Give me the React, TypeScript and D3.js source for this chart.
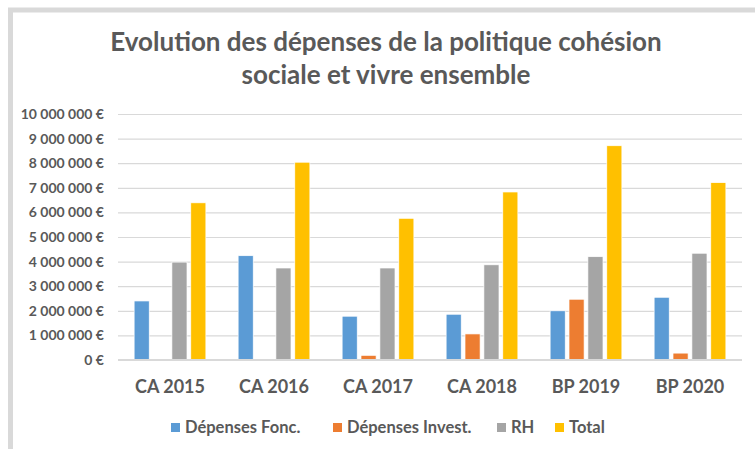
import * as d3 from "d3";
import { useEffect, useRef } from "react";

const categories = ["CA 2015", "CA 2016", "CA 2017", "CA 2018", "BP 2019", "BP 2020"];
const seriesNames = ["Dépenses Fonc.", "Dépenses Invest.", "RH", "Total"];
const depFonc = [2400000, 4240000, 1780000, 1860000, 2000000, 2550000];
const depInvest = [0, 0, 190000, 1060000, 2470000, 280000];
const rh = [3980000, 3740000, 3740000, 3870000, 4200000, 4340000];
const total = [6390000, 8040000, 5760000, 6830000, 8710000, 7210000];
const yTicks = [0, 1000000, 2000000, 3000000, 4000000, 5000000, 6000000, 7000000, 8000000, 9000000, 10000000];
const titleLines = ["Evolution des dépenses de la politique cohésion", "sociale et vivre ensemble"];

const colors = ["#5b9bd5", "#ed7d31", "#a5a5a5", "#ffc000"];
const textColor = "#595959";
const font = "Lato, 'Open Sans', sans-serif";

const App = () => {
    const ref = useRef<SVGSVGElement>(null);
    const width = 755;
    const height = 449;
    const margin = { top: 114, bottom: 89, left: 118, right: 13 };

    useEffect(() => {
        const svg = d3.select(ref.current);
        svg.selectAll("*").remove();

        const allSeries = [depFonc, depInvest, rh, total];

        const x0 = d3.scaleBand()
            .domain(categories)
            .range([margin.left, width - margin.right])
            .paddingInner(0.31)
            .paddingOuter(0.155);
        const x1 = d3.scaleBand()
            .domain(seriesNames)
            .range([0, x0.bandwidth()])
            .paddingInner(0.2);
        const y = d3.scaleLinear()
            .domain([0, 10000000])
            .range([height - margin.bottom, margin.top]);

        // frame
        svg.append("rect")
            .attr("x", 10.5).attr("y", 10)
            .attr("width", width + 20).attr("height", height + 20)
            .attr("fill", "none")
            .attr("stroke", "#d9d9d9")
            .attr("stroke-width", 5);

        // title
        svg.append("g").selectAll("text")
            .data(titleLines)
            .enter()
            .append("text")
            .attr("x", 386)
            .attr("y", (d, i) => 51 + i * 33)
            .attr("text-anchor", "middle")
            .style("font-family", font)
            .style("font-weight", "bold")
            .style("font-size", "26px")
            .style("fill", textColor)
            .text(d => d);

        // y axis + gridlines
        const fmt = d3.format(",.0f");
        const yAxis = d3.axisLeft(y)
            .tickValues(yTicks)
            .tickSize(-(width - margin.right - margin.left))
            .tickPadding(14)
            .tickFormat(d => fmt(d as number).replace(/,/g, " ") + " €");
        const gy = svg.append("g")
            .attr("transform", `translate(${margin.left}, 0)`)
            .call(yAxis);
        gy.select(".domain").remove();
        gy.selectAll("line")
            .attr("stroke", "#d9d9d9")
            .attr("stroke-width", 1.2);
        gy.selectAll("text")
            .style("font-family", font)
            .style("font-weight", "bold")
            .style("font-size", "14px")
            .style("fill", textColor);

        // bars
        allSeries.forEach((vals, si) => {
            svg.append("g").selectAll("rect")
                .data(vals)
                .enter()
                .append("rect")
                .attr("x", (d, i) => x0(categories[i])! + x1(seriesNames[si])!)
                .attr("y", d => y(d))
                .attr("width", x1.bandwidth())
                .attr("height", d => y(0) - y(d))
                .attr("fill", colors[si])
                .attr("stroke", "#fff")
                .attr("stroke-width", 0.7);
        });

        // baseline
        svg.append("line")
            .attr("x1", margin.left).attr("x2", width - margin.right)
            .attr("y1", y(0)).attr("y2", y(0))
            .attr("stroke", "#d9d9d9")
            .attr("stroke-width", 2);

        // category labels
        svg.append("g").selectAll("text")
            .data(categories)
            .enter()
            .append("text")
            .attr("x", d => x0(d)! + x0.bandwidth() / 2)
            .attr("y", 393)
            .attr("text-anchor", "middle")
            .style("font-family", font)
            .style("font-weight", "bold")
            .style("font-size", "18px")
            .style("fill", textColor)
            .text(d => d);

        // legend
        const legendX = [171, 333, 497, 555];
        const lg = svg.append("g").selectAll("g")
            .data(seriesNames)
            .enter()
            .append("g")
            .attr("transform", (d, i) => `translate(${legendX[i]}, 422)`);
        lg.append("rect")
            .attr("width", 9).attr("height", 9)
            .attr("y", 1)
            .attr("fill", (d, i) => colors[i]);
        lg.append("text")
            .attr("x", 14)
            .attr("y", 11)
            .style("font-family", font)
            .style("font-weight", "bold")
            .style("font-size", "16.5px")
            .style("fill", textColor)
            .text(d => d);
    }, []);

    return (
        <svg ref={ref} width={width} height={height} style={{ position: "absolute", left: 0, top: 0, background: "#fff" }}></svg>
    );
};

export default App;
